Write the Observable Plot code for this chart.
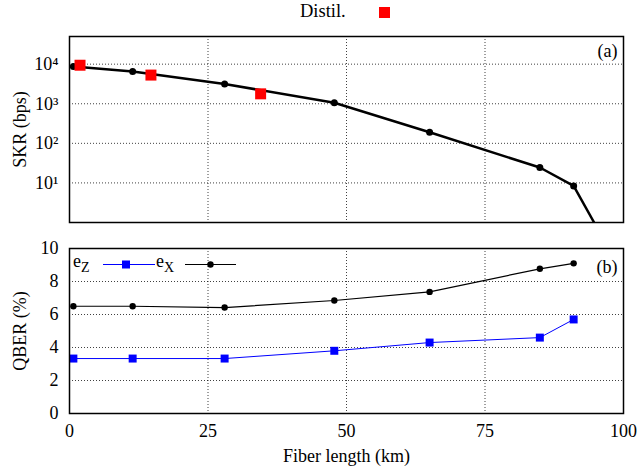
<!DOCTYPE html>
<html>
<head>
<meta charset="utf-8">
<script src="https://cdn.jsdelivr.net/npm/d3@7"></script>
<script src="https://cdn.jsdelivr.net/npm/@observablehq/plot@0.6"></script>
<style>
  html, body { margin: 0; padding: 0; background: white; }
  #wrap { position: relative; width: 641px; height: 472px; font-family: "Liberation Serif", serif; color: #000; }
  #topLegend { position: relative; height: 24px; width: 641px; }
  .abs { position: absolute; white-space: nowrap; line-height: 18px; font-size: 18px; }
  svg { display: block; }
</style>
</head>
<body>
<div id="wrap">
  <div id="topLegend">
    <span class="abs" style="left:300px; top:2px; font-size:18.5px;">Distil.</span>
    <span class="abs" style="left:379px; top:7px; width:11px; height:11px; background:#ff0000;"></span>
  </div>
  <div id="topPanel"></div>
  <div id="bottomPanel"></div>
  <span class="abs" style="left:73px; top:252px;">e<span style="font-size:14px; position:relative; top:5px;">Z</span></span>
  <svg class="abs" style="left:103px; top:258px;" width="52" height="13"><line x1="0" x2="52" y1="6.5" y2="6.5" stroke="#0000ff" stroke-width="1"/><rect x="19" y="2.5" width="8" height="8" fill="#0000ff"/></svg>
  <span class="abs" style="left:156px; top:252px;">e<span style="font-size:14px; position:relative; top:5px;">X</span></span>
  <svg class="abs" style="left:185px; top:258px;" width="51" height="13"><line x1="0" x2="51" y1="6.5" y2="6.5" stroke="#000" stroke-width="1.2"/><circle cx="25.5" cy="6.5" r="3.2" fill="#000"/></svg>
</div>
<script>
// ---- data ----
const distance = [0.7, 11.4, 28, 47.8, 65, 84.9, 91];
const skr = [8700, 6500, 3150, 1060, 190, 24.5, 8.4];
const skrTailDistance = [94.7];
const skrTailValue = [1];
const distilDistance = [1.9, 14.7, 34.5];
const distilSkr = [9400, 5300, 1780];
const ez = [3.33, 3.33, 3.33, 3.8, 4.3, 4.6, 5.7];
const ex = [6.5, 6.5, 6.42, 6.85, 7.37, 8.77, 9.1];
const xTicks = [0, 25, 50, 75, 100];
const skrTicks = [10, 100, 1000, 10000];
const qberTicks = [0, 2, 4, 6, 8, 10];

const skrPts = distance.map((d, i) => ({d, v: skr[i]}));
const skrLine = skrPts.concat(skrTailDistance.map((d, i) => ({d, v: skrTailValue[i]})));
const distilPts = distilDistance.map((d, i) => ({d, v: distilSkr[i]}));
const ezPts = distance.map((d, i) => ({d, v: ez[i]}));
const exPts = distance.map((d, i) => ({d, v: ex[i]}));

const sup = {"0":"⁰","1":"¹","2":"²","3":"³","4":"⁴","5":"⁵"};
const font = {fontFamily: "Liberation Serif, serif", fontSize: "18px", background: "white", color: "black", overflow: "visible"};
const gridStyle = {stroke: "#000", strokeOpacity: 0.75, strokeDasharray: "1,2", strokeWidth: 1};

const topChart = Plot.plot({
  width: 641, height: 208,
  marginLeft: 69, marginRight: 18, marginTop: 12, marginBottom: 10,
  style: font,
  x: {domain: [0, 100], axis: null},
  y: {type: "log", domain: [1, 5e4], ticks: skrTicks, tickFormat: d => "10" + String(Math.round(Math.log10(d))).split("").map(c => sup[c]).join(""),
      tickSize: 0, tickPadding: 11, label: "SKR (bps)", labelAnchor: "center", labelOffset: 56, labelArrow: "none"},
  marks: [
    Plot.ruleX([25, 50, 75], gridStyle),
    Plot.ruleY(skrTicks, gridStyle),
    Plot.line(skrLine, {x: "d", y: "v", stroke: "black", strokeWidth: 2.5, clip: true}),
    Plot.dot(skrPts, {x: "d", y: "v", r: 3.5, fill: "black"}),
    Plot.dot(distilPts, {x: "d", y: "v", symbol: "square", r: 6.2, fill: "#ff0000"}),
    Plot.frame({stroke: "black", strokeWidth: 1.5}),
    Plot.text(["(a)"], {frameAnchor: "top-right", dx: -6, dy: 15, textAnchor: "end", lineAnchor: "middle", fontSize: 18})
  ]
});
document.getElementById("topPanel").appendChild(topChart);

const bottomChart = Plot.plot({
  width: 641, height: 240,
  marginLeft: 69, marginRight: 18, marginTop: 16, marginBottom: 59,
  style: font,
  x: {domain: [0, 100], ticks: xTicks, tickSize: 0, tickPadding: 11, label: "Fiber length (km)", labelAnchor: "center", labelOffset: 48, labelArrow: "none"},
  y: {domain: [0, 10], ticks: qberTicks, tickSize: 0, tickPadding: 11, label: "QBER (%)", labelAnchor: "center", labelOffset: 56, labelArrow: "none"},
  marks: [
    Plot.ruleX([25, 50, 75], gridStyle),
    Plot.ruleY([2, 4, 6, 8], gridStyle),
    Plot.line(exPts, {x: "d", y: "v", stroke: "black", strokeWidth: 1.2}),
    Plot.dot(exPts, {x: "d", y: "v", r: 3.2, fill: "black"}),
    Plot.line(ezPts, {x: "d", y: "v", stroke: "#0000ff", strokeWidth: 1}),
    Plot.dot(ezPts, {x: "d", y: "v", symbol: "square", r: 4.5, fill: "#0000ff"}),
    Plot.frame({stroke: "black", strokeWidth: 1.5}),
    Plot.text(["(b)"], {frameAnchor: "top-right", dx: -6, dy: 19, textAnchor: "end", lineAnchor: "middle", fontSize: 18})
  ]
});
document.getElementById("bottomPanel").appendChild(bottomChart);
</script>
</body>
</html>
